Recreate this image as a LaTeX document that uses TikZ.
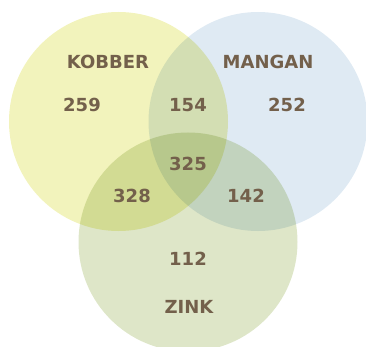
\documentclass[tikz,border=0pt]{standalone}
\usepackage{fontspec}
\setmainfont{DejaVu Sans}
\usepackage{xcolor}
\usepackage{tikz}
\definecolor{kob}{HTML}{F2F3BC}
\definecolor{man}{HTML}{DFEAF3}
\definecolor{zin}{HTML}{DEE6C8}
\definecolor{brun}{HTML}{73604B}
\tikzset{lbl/.style={text=brun,font=\fontsize{18}{18}\selectfont\bfseries,inner sep=0pt}}
\begin{document}
\begin{tikzpicture}[x=1pt,y=-1pt]
\useasboundingbox (0,0) rectangle (366,347);
\begin{scope}[blend group=multiply]
\fill[kob] (118.5,121.5) circle (109.5);
\fill[man] (258,121.5) circle (109.5);
\fill[zin] (188,242) circle (109.5);
\end{scope}
\node[lbl] (kobber) at (108,62) {KOBBER}; \node[lbl] (mangan) at (268,62) {MANGAN};
\node[lbl] (k) at (82,105) {259}; \node[lbl] (km) at (188,105) {154}; \node[lbl] (m) at (287,105) {252};
\node[lbl] (kmz) at (188,164) {325};
\node[lbl] (kz) at (132,196) {328}; \node[lbl] (mz) at (246,196) {142};
\node[lbl] (z) at (188,259) {112}; \node[lbl] (zink) at (189,307) {ZINK};
\end{tikzpicture}
\end{document}
